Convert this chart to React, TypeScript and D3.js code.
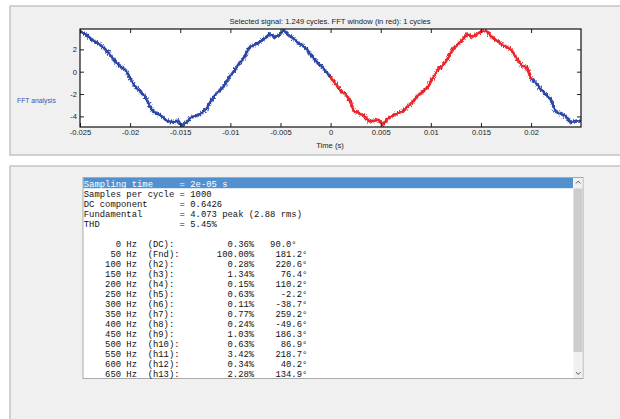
import React, { useEffect, useRef } from "react";
import * as d3 from "d3";

// signal: time in ms, value
const sigTime = [
  -25.0, -24.4, -23.9, -23.4, -22.9, -22.4, -21.9, -21.4, -20.9, -20.4,
  -20.07, -19.57, -19.07, -18.57, -18.23, -17.73, -17.23, -16.73, -16.23, -15.73,
  -15.23, -14.8, -14.4, -13.9, -13.4, -12.9, -12.4, -12.1, -11.6, -11.1,
  -10.6, -10.1, -9.6, -9.1, -8.6, -8.1, -7.6, -7.1, -6.6, -6.1,
  -5.6, -5.1, -4.67, -4.27, -3.77, -3.27, -2.77, -2.27, -1.77, -1.27,
  -0.77, -0.27, 0.0, 0.5, 1.0, 1.5, 2.0, 2.33, 2.83, 3.33,
  3.83, 4.33, 4.83, 5.17, 5.67, 6.17, 6.67, 7.17, 7.67, 8.17,
  8.67, 9.17, 9.67, 10.17, 10.67, 11.17, 11.67, 12.17, 12.6, 13.1,
  13.6, 14.1, 14.6, 15.1, 15.6, 16.1, 16.6, 17.1, 17.6, 18.1,
  18.6, 19.1, 19.6, 20.0, 20.43, 20.93, 21.43, 21.93, 22.43, 22.93,
  23.43, 23.93, 24.43, 25.0
];
const sigValue = [
  3.62, 3.31, 2.93, 2.63, 2.33, 1.94, 1.43, 0.84, 0.45, 0.09,
  -0.5, -1.25, -1.7, -2.15, -2.74, -3.55, -3.79, -4.08, -4.44, -4.53,
  -4.39, -4.83, -4.53, -4.08, -3.94, -3.72, -3.34, -2.89, -2.15, -1.7,
  -1.25, -0.5, 0.09, 0.75, 1.29, 2.18, 2.42, 2.63, 2.93, 3.38,
  3.08, 3.31, 3.73, 3.31, 3.02, 2.63, 2.33, 1.88, 1.29, 0.75,
  0.39, -0.21, -0.5, -1.1, -1.7, -2.0, -2.74, -3.55, -3.72, -3.94,
  -4.44, -4.39, -4.32, -4.74, -4.23, -3.94, -3.72, -3.55, -3.13, -2.74,
  -2.15, -1.84, -1.4, -0.6, 0.15, 0.54, 1.14, 2.03, 2.35, 2.78,
  3.38, 3.13, 3.38, 3.62, 3.62, 3.08, 2.78, 2.42, 2.18, 1.88,
  1.14, 0.54, 0.39, -0.65, -0.95, -1.55, -2.0, -2.44, -3.55, -3.79,
  -3.94, -4.53, -4.39, -4.39
];

const fftWindow = [0, 20]; // ms, shown in red
const xTicks = [-0.025, -0.02, -0.015, -0.01, -0.005, 0, 0.005, 0.01, 0.015, 0.02];
const yTicks = [-4, -2, 0, 2];
const xLimits = [-0.025, 0.02498];
const yLimits = [-4.95, 3.82];

const headerLines = [
  "Sampling time     = 2e-05 s",
  "Samples per cycle = 1000",
  "DC component      = 0.6426",
  "Fundamental       = 4.073 peak (2.88 rms)",
  "THD               = 5.45%",
  ""
];
const freqs = [0, 50, 100, 150, 200, 250, 300, 350, 400, 450, 500, 550, 600, 650];
const harmLabels = ["DC", "Fnd", "h2", "h3", "h4", "h5", "h6", "h7", "h8", "h9", "h10", "h11", "h12", "h13"];
const mags = [0.36, 100.0, 0.28, 1.34, 0.15, 0.63, 0.11, 0.77, 0.24, 1.03, 0.63, 3.42, 0.34, 2.28];
const phases = [90.0, 181.2, 220.6, 76.4, 110.2, -2.2, -38.7, 259.2, -49.6, 186.3, 86.9, 218.7, 40.2, 134.9];

const harmLine = (i: number) => {
  let s = String(freqs[i]).padStart(7) + " Hz  " + "(" + harmLabels[i] + "):";
  const pct = mags[i].toFixed(2) + "%";
  s = s.padEnd(32 - pct.length) + pct;
  const ang = phases[i].toFixed(1) + "\u00b0";
  if (i === 0) s = s + "   " + ang;
  else s = s.padEnd(42 - ang.length) + ang;
  return s;
};

const App = () => {
  const ref = useRef<SVGSVGElement>(null);

  useEffect(() => {
    const svg = d3.select(ref.current);
    svg.selectAll("*").remove();

    const left = 80, right = 581, top = 29, bottom = 127;
    const x = d3.scaleLinear().domain(xLimits).range([left, right]);
    const y = d3.scaleLinear().domain(yLimits).range([bottom, top]);

    // panels
    svg.append("rect").attr("x", 10).attr("y", 6).attr("width", 620).attr("height", 149)
      .attr("fill", "#f0f0f0").attr("stroke", "#c4c4c4").attr("stroke-width", 1.5);
    svg.append("rect").attr("x", 10).attr("y", 166).attr("width", 620).attr("height", 260)
      .attr("fill", "#f0f0f0").attr("stroke", "#c4c4c4").attr("stroke-width", 1.5);

    const defs = svg.append("defs");
    defs.append("clipPath").attr("id", "plotclip")
      .append("rect").attr("x", left).attr("y", top).attr("width", right - left).attr("height", bottom - top);
    const f = defs.append("filter").attr("id", "fuzz")
      .attr("x", "-5%").attr("y", "-10%").attr("width", "110%").attr("height", "120%");
    f.append("feTurbulence").attr("type", "fractalNoise").attr("baseFrequency", "1.3 0.5")
      .attr("numOctaves", 1).attr("seed", 4).attr("result", "n");
    f.append("feDisplacementMap").attr("in", "SourceGraphic").attr("in2", "n")
      .attr("scale", 6).attr("xChannelSelector", "R").attr("yChannelSelector", "G");

    svg.append("rect").attr("x", left).attr("y", top).attr("width", right - left).attr("height", bottom - top)
      .attr("fill", "white");

    const pts = sigTime.map((t, i) => ({ t: t / 1000, v: sigValue[i] }));
    const pre = pts.filter(p => p.t <= fftWindow[0] / 1000);
    const win = pts.filter(p => p.t >= fftWindow[0] / 1000 && p.t <= fftWindow[1] / 1000);
    const post = pts.filter(p => p.t >= fftWindow[1] / 1000);

    const line = d3.line<{ t: number; v: number }>().x(d => x(d.t)).y(d => y(d.v));
    const plot = svg.append("g").attr("clip-path", "url(#plotclip)");
    const segs: [typeof pts, string, string][] = [
      [pre, "#2c47a3", "#8e9cd6"],
      [post, "#2c47a3", "#8e9cd6"],
      [win, "#e8252b", "#f1878a"]
    ];
    segs.forEach(([d, core, halo]) => {
      plot.append("path").datum(d).attr("d", line).attr("fill", "none")
        .attr("stroke", halo).attr("stroke-width", 3.4).attr("filter", "url(#fuzz)");
      plot.append("path").datum(d).attr("d", line).attr("fill", "none")
        .attr("stroke", core).attr("stroke-width", 2.2).attr("filter", "url(#fuzz)");
      plot.append("path").datum(d).attr("d", line).attr("fill", "none")
        .attr("stroke", core).attr("stroke-width", 1.7);
    });

    const fmt = (v: number) => String(+v.toFixed(3));
    const axFont = "'Liberation Sans', Arial, sans-serif";
    const style = (g: any) => {
      g.select(".domain").remove();
      g.selectAll("line").attr("stroke", "#222");
      g.selectAll("text").attr("font-size", 7.6).attr("font-family", axFont).attr("fill", "#222");
      g.attr("font-family", null).attr("font-size", null);
    };
    svg.append("g").attr("transform", `translate(0,${bottom})`)
      .call(d3.axisBottom(x).tickValues(xTicks).tickFormat(fmt as any).tickSize(-4).tickPadding(3)).call(style);
    svg.append("g").attr("transform", `translate(0,${top})`)
      .call(d3.axisTop(x).tickValues(xTicks).tickFormat(() => "").tickSize(-4)).call(style);
    svg.append("g").attr("transform", `translate(${left},0)`)
      .call(d3.axisLeft(y).tickValues(yTicks).tickFormat(fmt as any).tickSize(-4).tickPadding(3)).call(style);
    svg.append("g").attr("transform", `translate(${right},0)`)
      .call(d3.axisRight(y).tickValues(yTicks).tickFormat(() => "").tickSize(-4)).call(style);

    svg.append("rect").attr("x", left).attr("y", top).attr("width", right - left).attr("height", bottom - top)
      .attr("fill", "none").attr("stroke", "#111").attr("stroke-width", 1.2);

    svg.append("text").attr("x", 330).attr("y", 24).attr("text-anchor", "middle")
      .attr("font-family", axFont).attr("font-size", 7.6).attr("fill", "#222")
      .text("Selected signal: 1.249 cycles. FFT window (in red): 1 cycles");
    svg.append("text").attr("x", 330).attr("y", 147.5).attr("text-anchor", "middle")
      .attr("font-family", axFont).attr("font-size", 7.6).attr("fill", "#222")
      .text("Time (s)");
    svg.append("text").attr("x", 17).attr("y", 102.5)
      .attr("font-family", axFont).attr("font-size", 6.8).attr("fill", "#4050a8")
      .text("FFT analysis");

    // listbox
    const bx = 83, by = 177.5, bw = 500, bh = 201, sbw = 9.5;
    svg.append("rect").attr("x", bx).attr("y", by).attr("width", bw).attr("height", bh)
      .attr("fill", "white").attr("stroke", "#a9a9a9").attr("stroke-width", 1);
    svg.append("rect").attr("x", bx + 0.5).attr("y", by + 0.5).attr("width", bw - sbw - 1).attr("height", 10.2)
      .attr("fill", "#5290d0");
    const sx = bx + bw - sbw;
    svg.append("rect").attr("x", sx).attr("y", by + 0.5).attr("width", sbw - 0.5).attr("height", bh - 1)
      .attr("fill", "#f0f0f0");
    svg.append("rect").attr("x", sx).attr("y", 188.5).attr("width", sbw - 0.5).attr("height", 163.5)
      .attr("fill", "#cdcdcd");
    svg.append("path").attr("d", `M${sx + 2.5},${183.5} L${sx + 4.7},${181} L${sx + 7},${183.5}`)
      .attr("fill", "none").attr("stroke", "#606060").attr("stroke-width", 1);
    svg.append("path").attr("d", `M${sx + 2.5},${372} L${sx + 4.7},${374.5} L${sx + 7},${372}`)
      .attr("fill", "none").attr("stroke", "#606060").attr("stroke-width", 1);

    const lines = headerLines.concat(freqs.map((_, i) => harmLine(i)));
    const tg = svg.append("g").attr("transform", `translate(${bx + 0.8},0) scale(0.925,1)`);
    tg.selectAll("text").data(lines).enter().append("text")
      .attr("x", 0).attr("y", (_, i) => 187 + i * 10)
      .attr("font-family", "'Liberation Mono', 'DejaVu Sans Mono', monospace")
      .attr("font-size", 9.6)
      .attr("fill", (_, i) => (i === 0 ? "white" : "#111"))
      .style("white-space", "pre")
      .text(d => d);
  }, []);

  return (
    <svg ref={ref} width={620} height={419} style={{ position: "absolute", left: 0, top: 0, background: "white" }} />
  );
};

export default App;
